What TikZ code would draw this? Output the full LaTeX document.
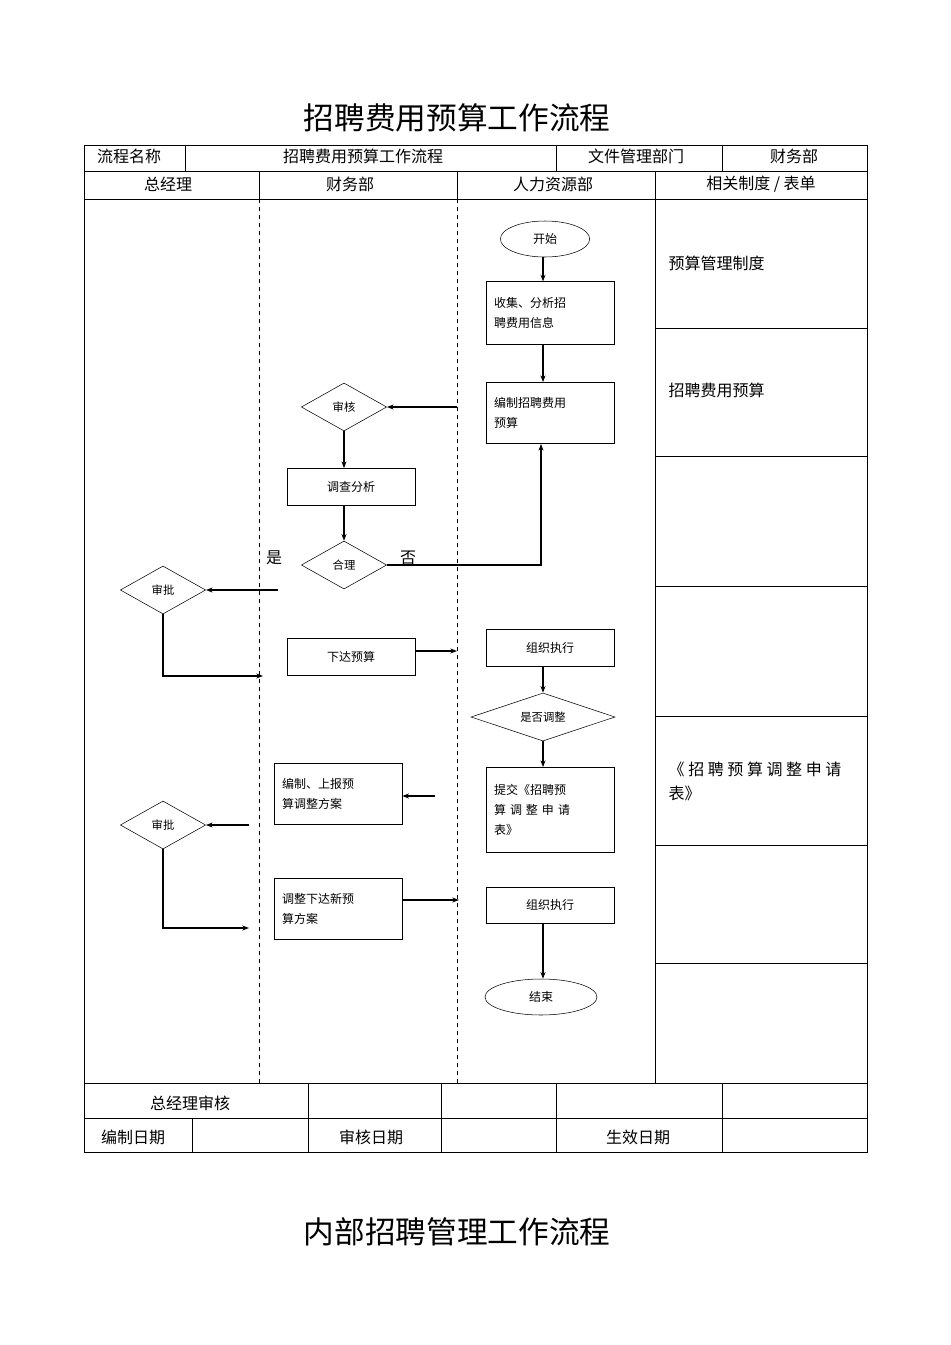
\documentclass[tikz,border=0pt]{standalone}
\usepackage{fontspec}
\setmainfont{Noto Sans CJK SC}
\usetikzlibrary{shapes.geometric,arrows.meta}

\tikzset{
  box/.style={rectangle,draw,minimum width=96pt,text width=84pt,align=left,font=\fontsize{9}{15}\selectfont},
  dec/.style={diamond,draw,aspect=1.8,inner sep=1pt,font=\fontsize{8.5}{10}\selectfont},
  term/.style={ellipse,draw,font=\fontsize{9}{10}\selectfont},
  flow/.style={-{Stealth[length=5pt]},line width=0.8pt},
  cell/.style={font=\fontsize{12}{14}\selectfont},
}

\begin{document}
\begin{tikzpicture}[x=0.75pt,y=-0.75pt]
\useasboundingbox (0,0) rectangle (950,1345);

% titles
\node [font=\fontsize{23}{26}\selectfont] (title) at (457,118) {招聘费用预算工作流程};
\node [font=\fontsize{23}{26}\selectfont] (title2) at (457,1232) {内部招聘管理工作流程};

% header table
\draw (84,145) rectangle (867,1152);
\draw (84,171) -- (867,171);
\draw (84,199) -- (867,199);
\foreach \x in {185,556,722} \draw (\x,145) -- (\x,171);
\foreach \x in {259,457} \draw (\x,171) -- (\x,199);
\draw (655,171) -- (655,1083);
\foreach \x in {259,457} \draw [dashed] (\x,199) -- (\x,1083);
\foreach \y in {328,456,586,716,845,963} \draw (655,\y) -- (867,\y);
\node [cell] (h1) at (129,156) {流程名称};
\node [cell] (h2) at (363,156) {招聘费用预算工作流程};
\node [cell] (h3) at (636,156) {文件管理部门};
\node [cell] (h4) at (794,156) {财务部};
\node [cell] (l1) at (168,184) {总经理};
\node [cell] (l2) at (350,184) {财务部};
\node [cell] (l3) at (553,184) {人力资源部};
\node [cell] (l4) at (761,184) {相关制度 / 表单};

% right column
\node [cell,anchor=west] (r1) at (664,263) {预算管理制度};
\node [cell,anchor=west] (r2) at (664,390) {招聘费用预算};
\node [cell,anchor=north west,align=left,font=\fontsize{12}{18}\selectfont] (r3) at (664,757) {《 招 聘 预 算 调 整 申 请\\表》};

% bottom table
\draw (84,1083) -- (867,1083);
\draw (84,1118) -- (867,1118);
\foreach \x in {308,441,556,722} \draw (\x,1083) -- (\x,1152);
\draw (192,1118) -- (192,1152);
\node [cell] (b1) at (190,1103) {总经理审核};
\node [cell] (b2) at (133,1137) {编制日期};
\node [cell] (b3) at (371,1137) {审核日期};
\node [cell] (b4) at (638,1137) {生效日期};

% flow nodes
\node [term,minimum width=67pt,minimum height=27pt] (start) at (545,239) {开始};
\node [box,minimum height=47pt] (collect) at (550,313) {收集、分析招\\聘费用信息};
\node [box,minimum height=46pt] (draft) at (550,413) {编制招聘费用\\预算};
\node [dec,minimum width=64pt,minimum height=36pt] (check) at (344,407) {审核};
\node [box,minimum height=28pt,align=center] (survey) at (351,487) {调查分析};
\node [dec,minimum width=64pt,minimum height=36pt] (ok) at (344,565) {合理};
\node [dec,minimum width=64pt,minimum height=36pt] (approve) at (163,590) {审批};
\node [box,minimum height=28pt,align=center] (issue) at (351,657) {下达预算};
\node [box,minimum height=28pt,align=center] (exec) at (550,648) {组织执行};
\node [dec,minimum width=108pt,minimum height=36pt,aspect=3] (adjust) at (543,717) {是否调整};
\node [box,minimum height=64pt] (submit) at (550,810) {提交《招聘预\\算 调 整 申 请\\表》};
\node [box,minimum height=46pt] (plan) at (338,794) {编制、上报预\\算调整方案};
\node [dec,minimum width=64pt,minimum height=36pt] (approve2) at (163,825) {审批};
\node [box,minimum height=46pt] (newplan) at (338,909) {调整下达新预\\算方案};
\node [box,minimum height=27pt,align=center] (exec2) at (550,905) {组织执行};
\node [term,minimum width=84pt,minimum height=27pt] (stop) at (541,997) {结束};

% free ends
\coordinate (c0) at (543,0);
\coordinate (c1) at (457,407);
\coordinate (c2) at (541,565);
\coordinate (c3) at (278,590);
\coordinate (c4) at (163,676);
\coordinate (c5) at (263,676);
\coordinate (c6) at (457,651);
\coordinate (c7) at (435,796);
\coordinate (c8) at (249,825);
\coordinate (c9) at (163,928);
\coordinate (c10) at (249,928);
\coordinate (c11) at (459,900);

% connectors
\draw [flow] (start.south -| c0) -- (collect.north -| c0);
\draw [flow] (collect.south -| c0) -- (draft.north -| c0);
\draw [flow] (c1) -- (check);
\draw [flow] (check) -- (check |- survey.north);
\draw [flow] (survey.south -| ok) -- (ok);
\draw [flow] (ok.east) -- (c2) -- (draft.south -| c2);
\node [cell] (no) at (408,558) {否};
\node [cell] (yes) at (274,558) {是};
\draw [flow] (c3) -- (approve);
\draw [flow] (approve) -- (c4) -- (c5);
\draw [flow] (issue.east |- c6) -- (c6);
\draw [flow] (exec.south -| c0) -- (adjust);
\draw [flow] (adjust) -- (submit.north -| c0);
\draw [flow] (c7) -- (c7 -| plan.east);
\draw [flow] (c8) -- (approve2);
\draw [flow] (approve2) -- (c9) -- (c10);
\draw [flow] (newplan.east |- c11) -- (c11);
\draw [flow] (exec2.south -| c0) -- (stop.north -| c0);
\end{tikzpicture}
\end{document}
